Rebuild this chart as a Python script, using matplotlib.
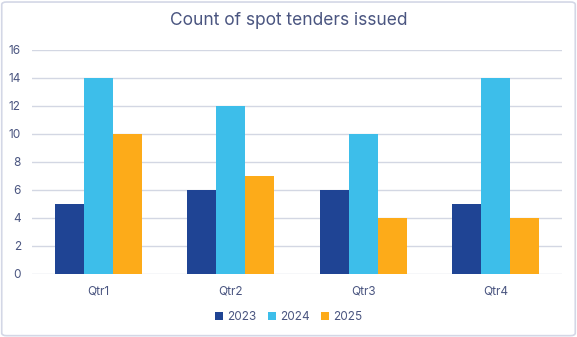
import matplotlib
matplotlib.use("Agg")
import matplotlib.pyplot as plt
import numpy as np
from matplotlib.patches import FancyBboxPatch

quarters = ["Qtr1", "Qtr2", "Qtr3", "Qtr4"]
years = ["2023", "2024", "2025"]
v2023 = [5, 6, 6, 5]
v2024 = [14, 12, 10, 14]
v2025 = [10, 7, 4, 4]
colors = ["#1f4494", "#3dbeea", "#fdab19"]
txt = "#4a5580"

plt.rcParams["font.family"] = ["Inter", "DejaVu Sans"]

fig = plt.figure(figsize=(5.77, 3.37), dpi=100)
border = FancyBboxPatch((0.003, 0.004), 0.994, 0.99, boxstyle="round,pad=0,rounding_size=0.008",
                        transform=fig.transFigure, fc="white", ec="#d3d7e6", lw=1.2, zorder=-10)
fig.patches.append(border)
ax = fig.add_axes([0.0555, 0.187, 0.9185, 0.666])
ax.set_facecolor("none")

x = np.arange(len(quarters))
w = 0.22
for i, (yr, vals) in enumerate(zip(years, [v2023, v2024, v2025])):
    ax.bar(x + (i - 1) * w, vals, w, color=colors[i], label=yr, zorder=3)

ax.set_xlim(-0.5, 3.5)
ax.set_ylim(0, 16)
ax.set_yticks(range(0, 17, 2))
ax.set_xticks(x)
ax.set_xticklabels(quarters)
ax.grid(axis="y", color="#d3d7e3", lw=1, zorder=0)
for s in ax.spines.values():
    s.set_visible(False)
ax.tick_params(length=0, colors=txt, labelsize=8.5)
ax.tick_params(axis="x", pad=8)
ax.tick_params(axis="y", pad=8)

fig.text(0.5, 0.94, "Count of spot tenders issued", ha="center", va="center", fontsize=12.5, color=txt)
ax.legend(loc="center", bbox_to_anchor=(0.5, 0.058), bbox_transform=fig.transFigure, ncol=3, frameon=False,
          fontsize=8.5, labelcolor=txt, handlelength=0.7, handleheight=0.7, handletextpad=0.3,
          columnspacing=1.0)

fig.savefig("out.png", dpi=100)
